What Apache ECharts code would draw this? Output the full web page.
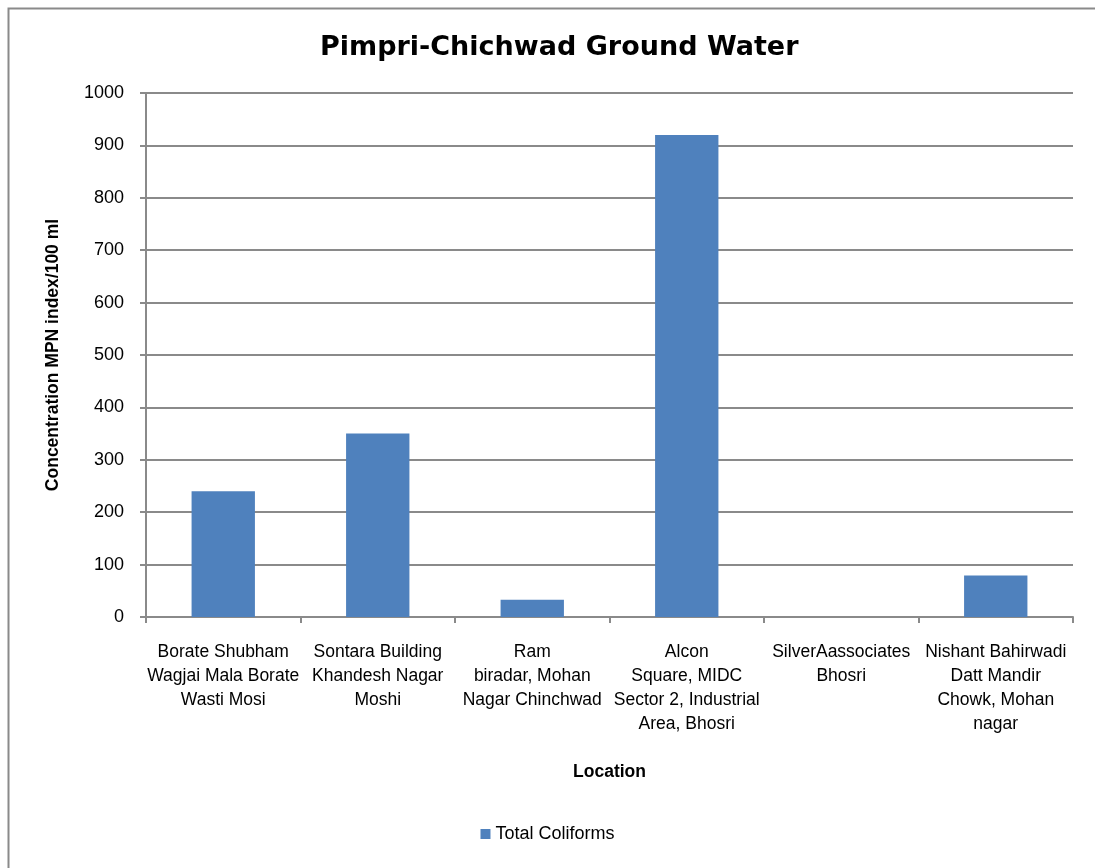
<!DOCTYPE html>
<html>
<head>
<meta charset="utf-8">
<script src="https://cdn.jsdelivr.net/npm/echarts@6/dist/echarts.min.js"></script>
<style>
html,body{margin:0;padding:0;background:#fff;}
#chart{width:1095px;height:868px;}
</style>
</head>
<body>
<div id="chart"></div>
<script>
var categories = [
  "Borate Shubham\nWagjai Mala Borate\nWasti Mosi",
  "Sontara Building\nKhandesh Nagar\nMoshi",
  "Ram\nbiradar, Mohan\nNagar Chinchwad",
  "Alcon\nSquare, MIDC\nSector 2, Industrial\nArea, Bhosri",
  "SilverAassociates\nBhosri",
  "Nishant Bahirwadi\nDatt Mandir\nChowk, Mohan\nnagar"
];
var totalColiforms = [240, 350, 33, 920, 0, 79];
var seriesName = "Total Coliforms";
var titleText = "Pimpri-Chichwad Ground Water";
var yAxisName = "Concentration MPN index/100 ml";
var xAxisName = "Location";

var narrow = "'Liberation Sans Narrow','Arial Narrow','Liberation Sans',Arial,sans-serif";
var chart = echarts.init(document.getElementById('chart'));
chart.setOption({
  animation: false,
  backgroundColor: '#fff',
  graphic: [{
    type: 'rect', left: 6, top: 6, silent: true,
    shape: {width: 1200, height: 1000},
    style: {fill: 'none', stroke: '#8a8a8a', lineWidth: 2}
  }],
  title: {
    text: titleText, left: 315, top: 29,
    textStyle: {fontFamily: "'DejaVu Sans',Verdana,sans-serif", fontWeight: 'bold', fontSize: 27, color: '#000'}
  },
  legend: {
    bottom: 20, left: 'center', itemWidth: 10, itemHeight: 10, itemGap: 5,
    icon: 'rect',
    textStyle: {fontFamily: narrow, fontSize: 18, color: '#000'}
  },
  grid: {left: 146, right: 22, top: 93, bottom: 251, containLabel: false},
  xAxis: {
    type: 'category', data: categories,
    name: xAxisName, nameLocation: 'middle', nameGap: 146,
    nameTextStyle: {fontFamily: narrow, fontWeight: 'bold', fontSize: 17.5, color: '#000'},
    axisLine: {lineStyle: {color: '#8a8a8a', width: 2}},
    axisTick: {show: true, length: 6, lineStyle: {color: '#8a8a8a', width: 2}},
    axisLabel: {interval: 0, margin: 23, fontFamily: narrow, fontSize: 17.5, lineHeight: 24, color: '#000'}
  },
  yAxis: {
    type: 'value', min: 0, max: 1000, interval: 100,
    name: yAxisName, nameLocation: 'middle', nameGap: 84,
    nameTextStyle: {fontFamily: narrow, fontWeight: 'bold', fontSize: 17.5, color: '#000'},
    axisLine: {show: true, lineStyle: {color: '#8a8a8a', width: 2}},
    axisTick: {show: true, length: 6, lineStyle: {color: '#8a8a8a', width: 2}},
    splitLine: {lineStyle: {color: '#8a8a8a', width: 2}},
    axisLabel: {margin: 22, fontFamily: narrow, fontSize: 18, color: '#000',
      formatter: function (v) { return String(v); }}
  },
  series: [{
    name: seriesName, type: 'bar', data: totalColiforms,
    barWidth: '41%',
    itemStyle: {color: '#4f81bd'}
  }]
});
</script>
</body>
</html>
